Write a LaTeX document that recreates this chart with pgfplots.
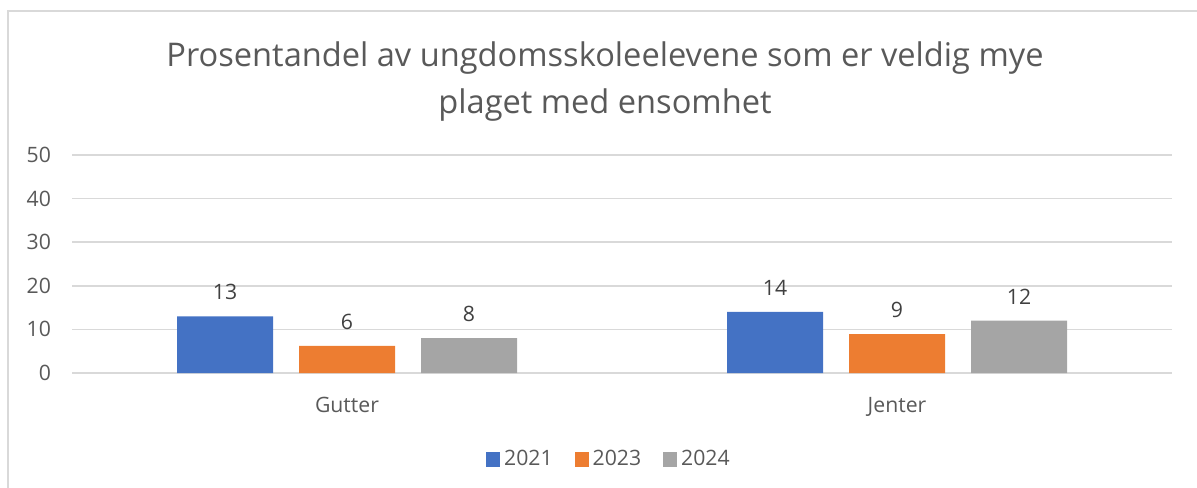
\documentclass[border=0pt]{standalone}
\usepackage{fontspec}
\setmainfont{Open Sans}
\usepackage{pgfplots}
\pgfplotsset{compat=1.18}
\definecolor{cblue}{HTML}{4472C4}
\definecolor{corange}{HTML}{ED7D31}
\definecolor{cgray}{HTML}{A5A5A5}
\definecolor{txt}{HTML}{595959}
\definecolor{lab}{HTML}{404040}
\definecolor{gridc}{HTML}{D9D9D9}
\definecolor{framec}{HTML}{D9D9D9}
\begin{document}
\begin{tikzpicture}
\useasboundingbox (0,0) rectangle (598.5pt,-243.5pt);
\draw[color=framec, line width=0.75pt] (4pt,-260pt) -- (4pt,-5.5pt) -- (610pt,-5.5pt);
\node[align=center, text=txt, font=\fontsize{16.3}{23.5}\selectfont, anchor=center] at (302.5pt,-41pt) {Prosentandel av ungdomsskoleelevene som er veldig mye\\plaget med ensomhet};
\begin{axis}[
  at={(36pt,-186.5pt)}, anchor=south west,
  scale only axis, width=550pt, height=109pt,
  xmin=-0.5, xmax=1.5, ymin=0, ymax=50,
  ytick={0,10,20,30,40,50},
  xtick={0,1}, xticklabels={Gutter,Jenter},
  ymajorgrids, grid style={color=gridc, line width=0.75pt},
  axis line style={draw=none},
  major tick length=0pt,
  /pgf/number format/assume math mode=true,
  tick label style={font=\fontsize{10.6}{12}\selectfont, text=txt},
  yticklabel style={xshift=-7pt},
  xticklabel style={yshift=-8.5pt},
  ybar, bar width=48pt,
  nodes near coords={\pgfmathprintnumber[fixed,precision=0]{\pgfplotspointmeta}},
  nodes near coords style={font=\fontsize{10.6}{12}\selectfont, text=lab, yshift=4.8pt},
  legend columns=3,
  legend style={at={(0.489,-0.395)}, anchor=center, draw=none, fill=none,
    font=\fontsize{10.6}{12}\selectfont, text=txt,
    /tikz/every even column/.append style={column sep=9pt}},
  legend image code/.code={\fill[#1] (0pt,-3.75pt) rectangle (7pt,3.75pt);},
]
\addplot[fill=cblue, draw=none, bar shift=-61pt] coordinates {(0,13) (1,14)};
\addplot[fill=corange, draw=none, bar shift=0pt] coordinates {(0,6.2) (1,8.9)};
\addplot[fill=cgray, draw=none, bar shift=61pt] coordinates {(0,8) (1,12)};
\legend{2021,2023,2024}
\end{axis}
\end{tikzpicture}
\end{document}
